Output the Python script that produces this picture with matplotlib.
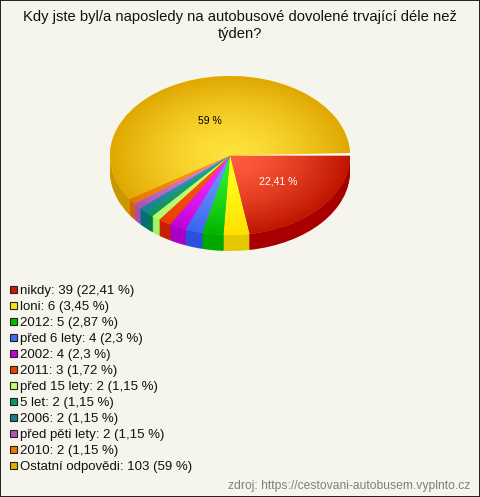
#!/usr/bin/env python
# pie chart from the survey results, squashed to look 3D

import matplotlib
matplotlib.use('Agg')
import matplotlib.pyplot as plt
from matplotlib.colors import LinearSegmentedColormap
from matplotlib.patches import Rectangle, Wedge
import numpy as np

plt.rcParams['font.family'] = ['Liberation Sans', 'DejaVu Sans']

title = 'Kdy jste byl/a naposledy na autobusové dovolené trvající déle než\ntýden?'
source = 'zdroj: https://cestovani-autobusem.vyplnto.cz'

names = ['nikdy', 'loni', '2012', 'před 6 lety', '2002', '2011', 'před 15 lety',
         '5 let', '2006', 'před pěti lety', '2010', 'Ostatní odpovědi']
counts = [39, 6, 5, 4, 4, 3, 2, 2, 2, 2, 2, 103]
percents = [22.41, 3.45, 2.87, 2.3, 2.3, 1.72, 1.15, 1.15, 1.15, 1.15, 1.15, 59]

swatch = ['#c81e00', '#ffe600', '#00bb00', '#3f6cf5', '#c000d8', '#e84400',
          '#c0ff70', '#0f9560', '#15809a', '#b855b0', '#ec7a00', '#e6ad00']
inner = ['#ff5c3c', '#ffff20', '#30f030', '#6a98ff', '#f030ff', '#ff5510',
         '#c8ff70', '#20a878', '#3498b0', '#d888dc', '#ff9a10', '#ffe23c']
outer = ['#bf1500', '#ffe000', '#00b400', '#3a64f0', '#c000d8', '#e84000',
         '#b4f868', '#109060', '#1a8098', '#b050b0', '#e87400', '#e0a800']
side = ['#a80000', '#e4c800', '#00a800', '#2b50dd', '#a800c8', '#c82000',
        '#a8f060', '#007a50', '#0a6a80', '#a050a8', '#d86000', '#c89800']

BG = '#f5f5ee'
W, H = 480, 497
CX, CY, RX, RY, DEPTH = 230, 155.5, 120, 79.5, 16

gap = 100 - sum(percents)
vals = [p / 100 for p in percents] + [gap / 100]

fig = plt.figure(figsize=(W / 100, H / 100), dpi=100, facecolor=BG)
ax = fig.add_axes([0, 0, 1, 1])


def draw_pie(colors, offset=0):
    wedges, _ = ax.pie(vals, colors=colors, startangle=0, counterclock=False,
                       normalize=False, radius=1, center=(0, -offset / RY),
                       wedgeprops={'linewidth': 0})
    return wedges


# side wall, one pie per pixel of depth
for off in range(DEPTH, 0, -1):
    draw_pie(side + [side[-1]], off)

top = draw_pie(inner + ['white'])

# radial shading on each slice, stays bright further out than a plain ramp
yy, xx = np.mgrid[-1:1:400j, -1:1:400j]
rr = np.sqrt(xx ** 2 + yy ** 2) ** 1.5
for wedge, c0, c1 in zip(top, inner, outer):
    cmap = LinearSegmentedColormap.from_list('s', [c0, c1])
    im = ax.imshow(rr, extent=(-1, 1, -1, 1), origin='lower', cmap=cmap,
                   vmin=0, vmax=1, aspect='auto', zorder=3)
    im.set_clip_path(wedge)

# the white sliver where the rounded percentages do not reach 100
ax.add_patch(Wedge((0, 0), 1, 0, 1.8, facecolor='#fbfaf4', linewidth=0, zorder=4))

ax.set_xlim(-CX / RX, (W - CX) / RX)
ax.set_ylim((CY - H) / RY, CY / RY)
ax.set_aspect('auto')
ax.axis('off')


def px(x, y):
    return x / W, 1 - y / H


fig.text(*px(240, 25.5), title, ha='center', va='center', fontsize=10.6,
         color='#111111', linespacing=1.25)

fig.text(*px(278.5, 181.5), '22,41 %', ha='center', va='center', fontsize=7.5,
         color='white', zorder=5)
fig.text(*px(209.5, 121.5), '59 %', ha='center', va='center', fontsize=7.5,
         color='black', zorder=5)

for i, (name, n, p) in enumerate(zip(names, counts, percents)):
    y = 289 + i * 16
    fig.add_artist(Rectangle(px(9.5, y + 3.5), 7 / W, 7 / H, transform=fig.transFigure,
                             facecolor=swatch[i], edgecolor='#222222', linewidth=0.8))
    label = '%s: %d (%s %%)' % (name, n, str(p).replace('.', ','))
    fig.text(*px(20, y + 2), label, ha='left', va='center', fontsize=9.55, color='#111111')

fig.text(*px(470, 485.5), source, ha='right', va='center', fontsize=8.7, color='#808080')

# thin dark frame round the image
fig.add_artist(Rectangle((0, 0), 1, 1, transform=fig.transFigure, fill=False,
                         edgecolor='#222222', linewidth=1.4))

fig.savefig('out.png', dpi=100, facecolor=BG)
